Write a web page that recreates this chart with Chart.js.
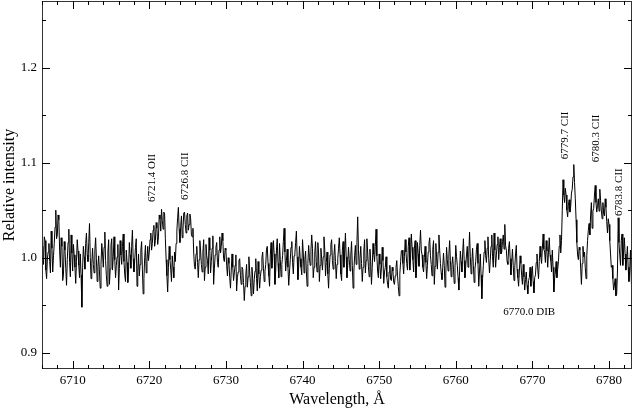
<!DOCTYPE html>
<html>
<head>
<meta charset="utf-8">
<script src="https://cdn.jsdelivr.net/npm/chart.js@4"></script>
<style>
html,body{margin:0;padding:0;background:#fff;}
canvas{display:block;}
</style>
</head>
<body>
<canvas id="c" width="634" height="410"></canvas>
<script>
// ---- data ----
const wavelengthStart = 6706.0;   // Å, first sample
const wavelengthStep = 0.1;       // Å, sampling step
const intensity = [
1.012,1.001,0.993,1.022,1.018,0.987,0.978,0.999,1.006,1.015,
0.996,0.984,1.028,1.010,0.985,1.002,1.015,1.032,1.050,1.020,
1.024,1.045,1.040,1.008,0.990,1.021,1.012,0.976,0.982,1.017,
1.008,0.989,0.971,0.998,1.016,1.030,0.995,0.980,1.024,1.005,
0.986,1.014,1.003,0.990,0.973,0.996,1.019,1.007,0.992,0.979,
1.004,0.982,0.948,0.990,1.012,1.001,0.988,1.015,1.026,1.003,
0.996,1.016,1.036,1.000,0.978,0.994,1.010,0.993,0.984,1.008,
1.021,0.999,0.975,0.991,1.002,0.985,0.968,0.993,1.015,1.004,
0.990,1.011,1.027,0.997,0.981,0.970,1.006,1.019,0.972,0.988,
1.013,1.020,0.987,1.001,1.022,0.998,0.979,0.992,1.001,1.014,
0.966,0.989,1.018,1.003,0.993,1.012,1.025,0.996,0.982,0.975,
1.008,0.995,0.974,0.987,1.016,1.003,0.989,1.012,1.029,0.999,
0.985,0.997,1.011,1.020,0.970,0.986,1.004,0.981,0.993,1.008,
1.017,0.988,0.962,0.978,1.000,1.013,0.984,0.996,1.012,0.997,
1.006,1.019,1.026,1.008,1.015,1.029,1.034,1.012,1.018,1.037,
1.031,1.014,1.022,1.045,1.041,1.028,1.051,1.039,1.030,1.048,
1.046,1.020,0.998,0.981,0.964,0.990,1.012,0.998,0.988,0.975,
1.002,0.990,0.979,1.006,0.996,1.015,1.028,1.042,1.053,1.030,
1.016,1.033,1.044,1.021,1.030,1.047,1.048,1.035,1.026,1.044,
1.047,1.029,1.035,1.046,1.041,1.024,1.022,1.031,1.005,0.991,
0.988,1.004,1.012,0.995,0.979,0.998,1.018,1.007,0.993,0.985,
1.006,1.019,0.976,0.990,1.014,1.002,0.997,0.983,1.021,1.008,
0.984,0.996,1.010,1.023,0.972,0.989,1.003,1.011,1.016,0.995,
0.990,1.008,1.022,1.005,1.012,1.026,1.018,0.999,0.996,1.010,
1.008,0.992,0.981,1.000,0.994,0.979,0.968,0.987,1.004,0.990,
0.976,0.984,0.992,1.003,0.965,0.979,0.985,0.997,0.999,0.981,
0.972,0.990,0.988,0.974,0.955,0.970,0.982,0.993,0.969,0.980,
1.001,0.986,0.974,0.960,0.990,0.978,0.962,0.977,0.986,0.999,
0.978,0.965,0.996,0.983,0.968,0.980,0.987,1.000,1.006,0.989,
0.975,0.986,0.993,1.009,1.012,0.994,0.981,0.970,1.003,1.016,
0.989,1.000,1.018,1.004,0.972,0.986,1.008,1.020,0.994,0.979,
1.015,0.998,0.980,0.993,1.002,1.017,1.031,1.006,0.986,0.997,
1.009,0.990,0.971,0.985,0.998,1.011,1.017,0.995,0.983,1.002,
1.004,1.016,1.028,1.001,0.977,0.991,1.012,0.999,0.990,0.982,
1.019,1.005,0.984,0.998,1.007,0.986,0.970,0.994,1.013,1.000,
0.992,1.008,1.024,1.010,0.979,0.990,1.005,1.017,0.996,0.985,
1.016,1.004,0.975,0.992,1.010,0.999,0.987,1.001,1.022,1.009,
0.981,0.995,1.006,0.983,0.968,0.989,1.003,1.014,1.019,0.997,
0.988,1.002,1.014,0.996,0.978,0.993,0.999,1.010,1.021,1.003,
0.983,0.976,1.008,1.017,0.990,1.004,1.026,1.001,0.979,0.992,
1.011,0.998,0.986,1.003,1.017,0.992,0.968,0.985,1.002,1.013,
0.993,1.016,1.043,1.009,0.988,0.999,1.012,0.994,0.975,0.990,
1.007,1.019,0.984,0.997,1.020,1.006,0.991,0.980,1.009,0.996,
0.972,0.990,1.015,1.004,0.996,1.012,1.030,1.002,0.986,0.979,
1.004,0.993,0.978,0.989,1.011,0.997,0.973,0.985,0.990,1.001,
0.980,0.972,0.968,0.985,0.992,0.977,0.976,0.990,0.986,0.974,
0.972,0.981,0.990,0.997,0.981,0.970,0.960,0.983,0.996,1.007,
1.008,0.994,0.983,1.001,1.019,1.006,0.994,0.987,1.012,1.021,
0.987,0.999,1.025,1.011,0.998,0.985,1.010,1.018,0.979,0.993,
1.016,1.004,0.991,1.013,1.029,1.008,1.003,0.990,0.985,1.000,
1.012,0.995,0.978,0.992,1.006,1.015,1.021,1.002,0.993,0.981,
1.009,1.018,0.972,0.991,1.015,1.000,0.988,1.006,1.024,1.008,
0.994,0.984,0.977,0.990,1.005,0.992,0.969,0.983,1.011,0.998,
0.986,1.003,1.018,0.997,0.980,0.993,1.001,0.988,0.973,0.990,
1.013,1.001,0.992,0.979,0.966,0.986,1.007,0.996,0.985,1.005,
1.020,0.997,0.979,0.991,1.003,1.012,0.990,1.004,1.027,1.001,
0.983,0.995,1.010,0.992,0.974,0.988,0.996,1.009,1.015,0.994,
0.970,0.986,1.004,0.982,0.957,0.978,0.992,1.006,1.018,1.002,
0.995,1.010,1.022,0.999,0.984,0.997,1.012,1.024,1.001,0.990,
1.026,1.008,0.990,1.003,1.014,1.022,0.998,1.011,1.020,1.004,
1.006,1.017,1.024,1.009,1.035,1.013,1.008,0.996,0.993,1.010,
1.017,0.999,0.982,0.995,1.009,0.992,0.976,0.990,1.004,1.013,
0.988,0.979,0.970,0.986,1.002,0.994,0.981,0.972,0.993,0.980,
0.966,0.977,0.985,0.971,0.962,0.976,0.979,0.990,0.970,0.983,
0.991,0.975,0.963,0.979,0.982,0.995,1.004,0.988,0.978,0.996,
1.012,1.001,0.994,1.010,1.025,1.009,1.006,0.995,1.018,1.007,
0.990,1.006,1.021,1.003,0.997,0.985,1.008,0.990,0.964,0.978,
0.985,0.996,0.979,0.988,0.996,1.012,1.024,1.005,1.018,1.050,
1.082,1.066,1.058,1.073,1.066,1.050,1.043,1.055,1.061,1.048,
1.054,1.068,1.072,1.085,1.098,1.079,1.062,1.040,1.016,1.003,
0.998,1.011,1.008,0.989,0.972,0.994,1.012,1.001,1.006,0.990,
0.978,1.002,1.018,1.029,1.036,1.024,1.045,1.058,1.031,1.049,
1.052,1.066,1.076,1.058,1.048,1.055,1.062,1.049,1.072,1.060,
1.050,1.041,1.058,1.047,1.044,1.062,1.053,1.038,1.026,1.041,
1.035,1.018,1.004,0.990,0.992,0.978,0.966,0.971,0.978,0.960,
0.962,0.985,1.042,1.016,1.003,0.992,1.018,1.025,0.992,1.006,
1.021,1.004,0.987,0.998,1.012,0.990,0.975,0.986,1.008,0.979,
0.956
];

const xRange = [6706, 6783];
const yRange = [0.883, 1.27];
const xMajorTicks = [6710, 6720, 6730, 6740, 6750, 6760, 6770, 6780];
const xMinorTicks = [6706,6708,6712,6714,6716,6718,6722,6724,6726,6728,6732,6734,6736,6738,6742,6744,6746,6748,6752,6754,6756,6758,6762,6764,6766,6768,6772,6774,6776,6778,6782];
const yMajorTicks = [0.9, 1.0, 1.1, 1.2];
const yMinorTicks = [0.95, 1.05, 1.15, 1.25];

// line identifications: text, wavelength anchor, intensity anchor
const lineLabels = ['6721.4 OII', '6726.8 CII', '6779.7 CII', '6780.3 CII', '6783.8 CII'];
const lineLabelX = [6720.43, 6724.73, 6774.28, 6778.32, 6781.32];
const lineLabelY = [1.0586, 1.0607, 1.1037, 1.1005, 1.044];
const dibLabel = '6770.0 DIB';
const dibX = 6769.58;
const dibY = 0.9424;

const xTitle = 'Wavelength, Å';
const yTitle = 'Relative intensity';

// ---- build ----
const points = intensity.map((v, i) => ({ x: +(wavelengthStart + i * wavelengthStep).toFixed(2), y: v }));
const serif = "'Liberation Serif', 'Times New Roman', serif";

const framePlugin = {
  id: 'frame',
  afterDraw(chart) {
    const { ctx, chartArea: a, scales: { x, y } } = chart;
    ctx.save();
    ctx.strokeStyle = '#333';
    ctx.lineWidth = 1;
    ctx.strokeRect(Math.round(a.left) + 0.5, Math.round(a.top) + 0.5, Math.round(a.right - a.left) - 1, Math.round(a.bottom - a.top) - 1);
    ctx.strokeStyle = '#000';
    ctx.beginPath();
    const xt = (v, len) => {
      const px = Math.round(x.getPixelForValue(v)) + 0.5;
      ctx.moveTo(px, a.bottom); ctx.lineTo(px, a.bottom - len);
      ctx.moveTo(px, a.top); ctx.lineTo(px, a.top + len);
    };
    const yt = (v, len) => {
      const py = Math.round(y.getPixelForValue(v)) + 0.5;
      ctx.moveTo(a.left, py); ctx.lineTo(a.left + len, py);
      ctx.moveTo(a.right, py); ctx.lineTo(a.right - len, py);
    };
    xMajorTicks.forEach(v => xt(v, 8));
    xMinorTicks.forEach(v => xt(v, 4));
    yMajorTicks.forEach(v => yt(v, 8));
    yMinorTicks.forEach(v => yt(v, 4));
    ctx.stroke();

    ctx.fillStyle = '#000';
    ctx.font = '11px ' + serif;
    lineLabels.forEach((t, i) => {
      const px = x.getPixelForValue(lineLabelX[i]);
      const py = y.getPixelForValue(lineLabelY[i]);
      ctx.save();
      ctx.translate(px, py);
      ctx.rotate(-Math.PI / 2);
      ctx.textAlign = 'left';
      ctx.textBaseline = 'middle';
      ctx.fillText(t, 0, 0);
      ctx.restore();
    });
    ctx.textAlign = 'center';
    ctx.textBaseline = 'middle';
    ctx.fillText(dibLabel, x.getPixelForValue(dibX), y.getPixelForValue(dibY));
    ctx.restore();
  }
};

new Chart(document.getElementById('c'), {
  type: 'line',
  data: {
    datasets: [{
      data: points,
      borderColor: '#000',
      borderWidth: 1,
      pointRadius: 0,
      tension: 0,
      fill: false
    }]
  },
  options: {
    responsive: false,
    animation: false,
    events: [],
    layout: { padding: { top: 1, right: 2, left: 0, bottom: 0 } },
    plugins: { legend: { display: false }, tooltip: { enabled: false } },
    scales: {
      x: {
        type: 'linear',
        min: xRange[0], max: xRange[1],
        afterFit: s => { s.height = 41; s.paddingLeft = 0; s.paddingRight = 0; },
        afterBuildTicks: s => { s.ticks = xMajorTicks.map(v => ({ value: v })); },
        grid: { display: false, drawTicks: false },
        border: { display: false },
        ticks: { color: '#000', font: { family: serif, size: 13 }, padding: 4, maxRotation: 0, autoSkip: false, callback: v => String(v) },
        title: { display: true, text: xTitle, color: '#000', font: { family: serif, size: 16 }, padding: { top: 0, bottom: 1 } }
      },
      y: {
        type: 'linear',
        min: yRange[0], max: yRange[1],
        afterFit: s => { s.width = 42; s.paddingTop = 0; s.paddingBottom = 0; },
        afterBuildTicks: s => { s.ticks = yMajorTicks.map(v => ({ value: v })); },
        grid: { display: false, drawTicks: false },
        border: { display: false },
        ticks: { color: '#000', font: { family: serif, size: 13 }, padding: 5, autoSkip: false, callback: v => v.toFixed(1) },
        title: { display: true, text: yTitle, color: '#000', font: { family: serif, size: 16 }, padding: { top: 0, bottom: 0 } }
      }
    }
  },
  plugins: [framePlugin]
});
</script>
</body>
</html>
